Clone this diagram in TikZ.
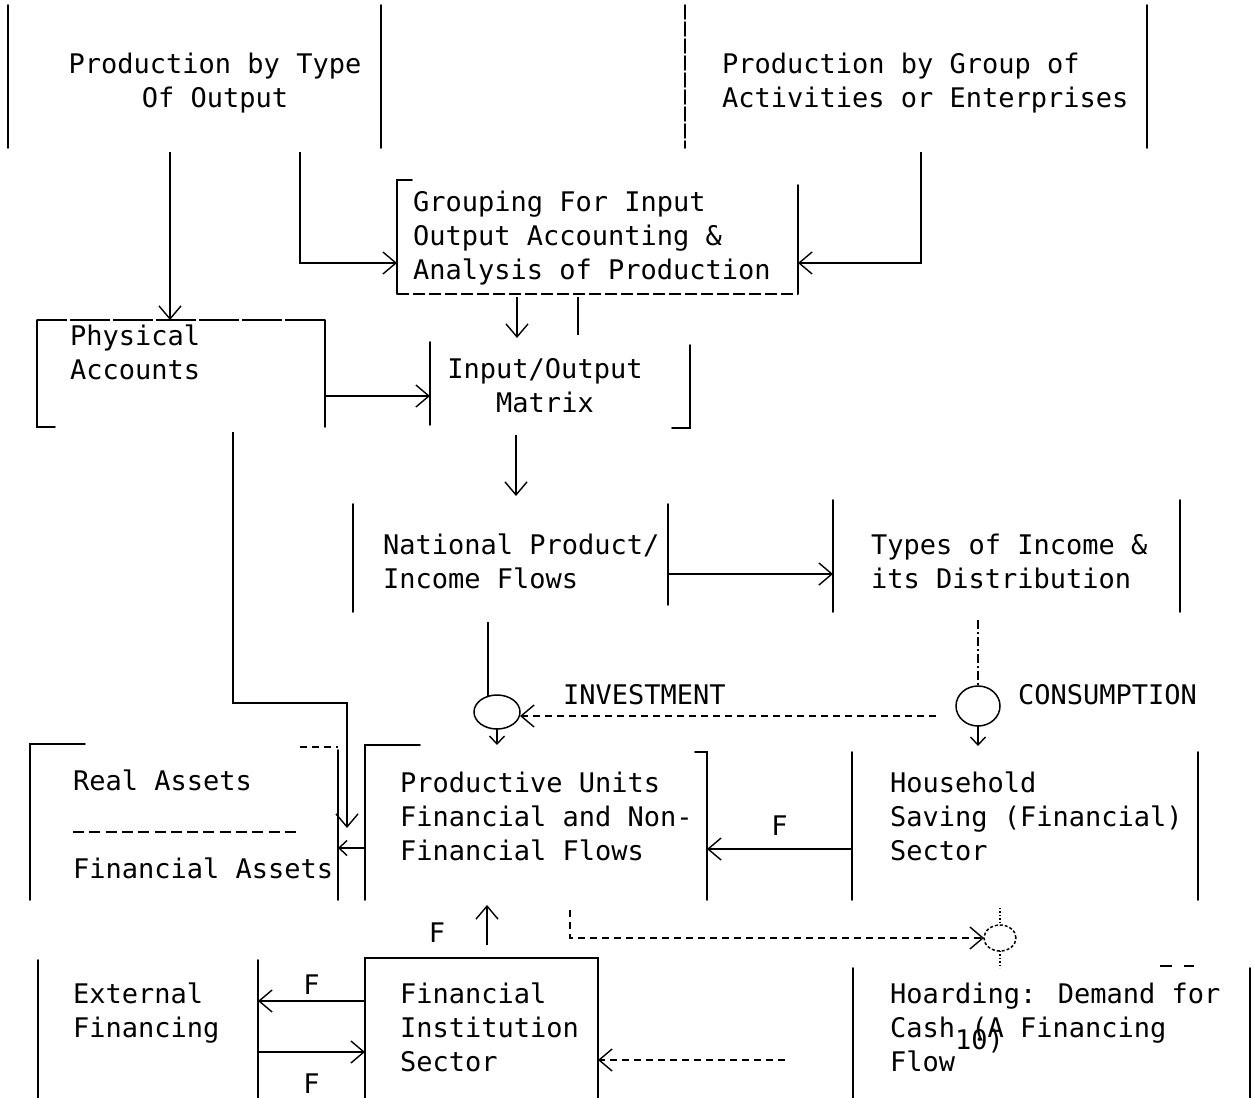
\documentclass[tikz,border=0pt]{standalone}
\usepackage{fontspec}
\newfontfamily\tw{DejaVu Sans Mono}
\usetikzlibrary{arrows.meta,shapes.geometric}
\begin{document}
\begin{tikzpicture}[x=1pt,y=-1pt,
  every node/.style={inner sep=0pt, outer sep=0pt},
  area/.style={rectangle, draw=none},
  side/.style={line width=1.7pt, line cap=round},
  txt/.style={font=\tw\fontsize{27}{34}\selectfont, align=left, anchor=north west},
  ctxt/.style={font=\tw\fontsize{27}{34}\selectfont, align=center, anchor=north},
  lbl/.style={font=\tw\fontsize{27}{34}\selectfont},
  arr/.style={line width=1.4pt, -{Straight Barb[length=13pt,width=22pt]}},
  sarr/.style={line width=1.4pt, -{Straight Barb[length=8pt,width=15pt]}},
  ln/.style={line width=1.4pt},
  dsh/.style={dash pattern=on 7pt off 5pt},
  circ/.style={ellipse, draw, line width=1.5pt},
]
\useasboundingbox[fill=white] (0,0) rectangle (1254,1098);

% ---- box areas ----
\node[area, minimum width=373pt, minimum height=143pt] (ptype) at (194.5,76.5) {};
\node[area, minimum width=462pt, minimum height=143pt] (pgroup) at (916,76.5) {};
\node[area, minimum width=401pt, minimum height=114pt] (grp) at (597.5,237) {};
\node[area, minimum width=288pt, minimum height=107pt] (phys) at (181,373.5) {};
\node[area, minimum width=260pt, minimum height=86pt] (io) at (560,385) {};
\node[area, minimum width=315pt, minimum height=108pt] (nat) at (510.5,558) {};
\node[area, minimum width=347pt, minimum height=112pt] (inc) at (1006.5,556) {};
\node[area, minimum width=308pt, minimum height=156pt] (assets) at (184,822) {};
\node[area, minimum width=342pt, minimum height=155pt] (prod) at (536,822.5) {};
\node[area, minimum width=346pt, minimum height=148pt] (house) at (1025,826) {};
\node[area, minimum width=220pt, minimum height=138pt] (ext) at (148,1029) {};
\node[area, minimum width=233pt, minimum height=140pt] (fin) at (481.5,1028) {};
\node[area, minimum width=397pt, minimum height=130pt] (hoard) at (1051.5,1033) {};

% ---- circles ----
\node[circ, minimum width=46pt, minimum height=34pt] (inv) at (497,712) {};
\node[circ, minimum width=44pt, minimum height=40pt] (cons) at (978,706) {};
\node[circ, densely dashed, minimum width=32pt, minimum height=26pt] (hd) at (1000,938) {};

% ---- box sides ----
\draw[side] (ptype.north west) -- (ptype.south west);
\draw[side] (ptype.north east) -- (ptype.south east);
\draw[side, dash pattern=on 14pt off 3pt] (pgroup.north west) -- (pgroup.south west);
\draw[side] (pgroup.north east) -- (pgroup.south east);
\draw[side] ([xshift=15pt]grp.north west) -- (grp.north west) -- (grp.south west);
\draw[ln, dash pattern=on 12pt off 4pt] (grp.south west) -- (grp.south east);
\draw[side] ([yshift=-5pt]grp.north east) -- (grp.south east);
\draw[ln, dash pattern=on 40pt off 3pt] (phys.north east) -- (phys.north west);
\draw[side] (phys.north west) -- (phys.south west) -- ([xshift=18pt]phys.south west);
\draw[side] (phys.north east) -- (phys.south east);
\draw[side] (io.north west) -- ([yshift=3pt]io.south west);
\draw[side] ([yshift=-3pt]io.north east) -- (io.south east) -- ([xshift=-18pt]io.south east);
\draw[side] (nat.north west) -- (nat.south west);
\draw[side] (nat.north east) -- ([yshift=7pt]nat.south east);
\draw[side] (inc.north west) -- (inc.south west);
\draw[side] (inc.north east) -- (inc.south east);
\draw[side] ([xshift=55pt]assets.north west) -- (assets.north west) -- (assets.south west);
\draw[side] ([yshift=-6pt]assets.north east) -- (assets.south east);
\draw[ln, dsh] ([xshift=-38pt,yshift=-3pt]assets.north east) -- ([yshift=-3pt]assets.north east);
\draw[ln, dash pattern=on 11pt off 5.3pt] (73,832) -- (301,832);
\draw[side] ([xshift=55pt]prod.north west) -- (prod.north west) -- (prod.south west);
\draw[side] ([xshift=-12pt,yshift=-7pt]prod.north east) -- ([yshift=-7pt]prod.north east) -- (prod.south east);
\draw[side] (house.north west) -- (house.south west);
\draw[side] (house.north east) -- (house.south east);
\draw[side] (ext.north west) -- (ext.south west);
\draw[side] (ext.north east) -- (ext.south east);
\draw[side] (fin.south west) -- (fin.north west) -- (fin.north east) -- (fin.south east);
\draw[side] (hoard.north west) -- (hoard.south west);
\draw[side] (hoard.north east) -- (hoard.south east);
\draw[ln] ([xshift=-90pt,yshift=2pt]hoard.north east) -- ++(12,0);
\draw[ln] ([xshift=-66pt,yshift=2pt]hoard.north east) -- ++(10,0);

% ---- texts ----
\node[ctxt] (tptype) at (215,52.5) {Production by Type\\Of Output};
\node[txt] (tpgroup) at (722,52.5) {Production by Group of\\Activities or Enterprises};
\node[txt] (tgrp) at (413,190.5) {Grouping For Input\\Output Accounting \&\\Analysis of Production};
\node[txt] (tphys) at (70,324.5) {Physical\\Accounts};
\node[ctxt] (tio) at (545,358.5) {Input/Output\\Matrix};
\node[txt] (tnat) at (383,533.5) {National Product/\\Income Flows};
\node[txt] (tinc) at (871,533.5) {Types of Income \&\\its Distribution};
\node[txt] (tinv) at (563,684.5) {INVESTMENT};
\node[txt] (tcons) at (1018,684.5) {CONSUMPTION};
\node[txt] (treal) at (73,769.5) {Real Assets};
\node[txt] (tfina) at (73,857.5) {Financial Assets};
\node[txt] (tprod) at (400,771.5) {Productive Units\\Financial and Non-\\Financial Flows};
\node[txt] (thouse) at (890,771.5) {Household\\Saving (Financial)\\Sector};
\node[txt] (text) at (73,982.5) {External\\Financing};
\node[txt] (tfin) at (400,982.5) {Financial\\Institution\\Sector};
\node[txt] (thoard) at (890,982.5) {Hoarding: Demand for\\Cash (A Financing\\Flow\smash{\raisebox{22pt}{10)}}};

% ---- connectors ----
\draw[arr] ([yshift=-4pt]ptype.south -| 170,0) -- (phys.north -| 170,0);
\draw[arr] ([yshift=-4pt]ptype.south -| 300,0) |- (grp.west |- 0,263);
\draw[arr] ([yshift=-4pt]pgroup.south -| 921,0) |- (grp.east |- 0,263);
\draw[arr] ([yshift=-3pt]grp.south -| 517,0) -- ([yshift=4pt]io.north -| 517,0);
\draw[ln] ([yshift=-3pt]grp.south -| 578,0) -- ([yshift=7pt]io.north -| 578,0);
\draw[arr] (phys.east |- 0,396) -- (io.west |- 0,396);
\draw[arr] ([yshift=-7pt]io.south -| 516,0) -- ([yshift=8pt]nat.north -| 516,0);
\draw[arr] (nat.east |- 0,574) -- (inc.west |- 0,574);
\coordinate (m1) at (347,703);
\coordinate (m2) at (347,828);
\draw[arr] ([yshift=-5pt]phys.south -| 233,0) |- (m1) -- (m2);
\draw[sarr] (prod.west |- 0,848) -- (assets.east |- 0,848);
\draw[ln] ([yshift=-10pt]nat.south -| inv.120) -- (inv.120);
\draw[sarr] (inv.south) -- (inv.south |- prod.north);
\draw[ln, dash pattern=on 9pt off 3pt on 2pt off 3pt] ([yshift=-8pt]inc.south -| cons.north) -- (cons.north);
\draw[sarr] (cons.south) -- ([yshift=6pt]cons.south |- house.north);
\draw[arr, dsh] ([xshift=-20pt]cons.west |- 0,716) -- (inv.east |- 0,716);
\draw[arr] (house.west |- 0,849) -- node[lbl, yshift=23pt] (f1) {F} (prod.east |- 0,849);
\draw[arr] ([yshift=13pt]fin.north -| 487,0) -- ([yshift=-5pt]prod.south -| 487,0);
\node[lbl] (f2) at (437,933) {F};
\draw[arr, dsh] ([yshift=-10pt]prod.south -| 570,0) |- (hd.west);
\draw[ln, dotted] ([yshift=-8pt]house.south -| hd.north) -- (hd.north);
\draw[ln, dotted] (hd.south) -- (hd.south |- hoard.north);
\draw[arr] (fin.west |- 0,1001) -- node[lbl, yshift=16pt] (f3) {F} (ext.east |- 0,1001);
\draw[arr] (ext.east |- 0,1052) -- node[lbl, yshift=-32pt] (f4) {F} (fin.west |- 0,1052);
\draw[arr, dsh] ([xshift=-68pt]hoard.west |- 0,1060) -- (fin.east |- 0,1060);
\end{tikzpicture}
\end{document}
